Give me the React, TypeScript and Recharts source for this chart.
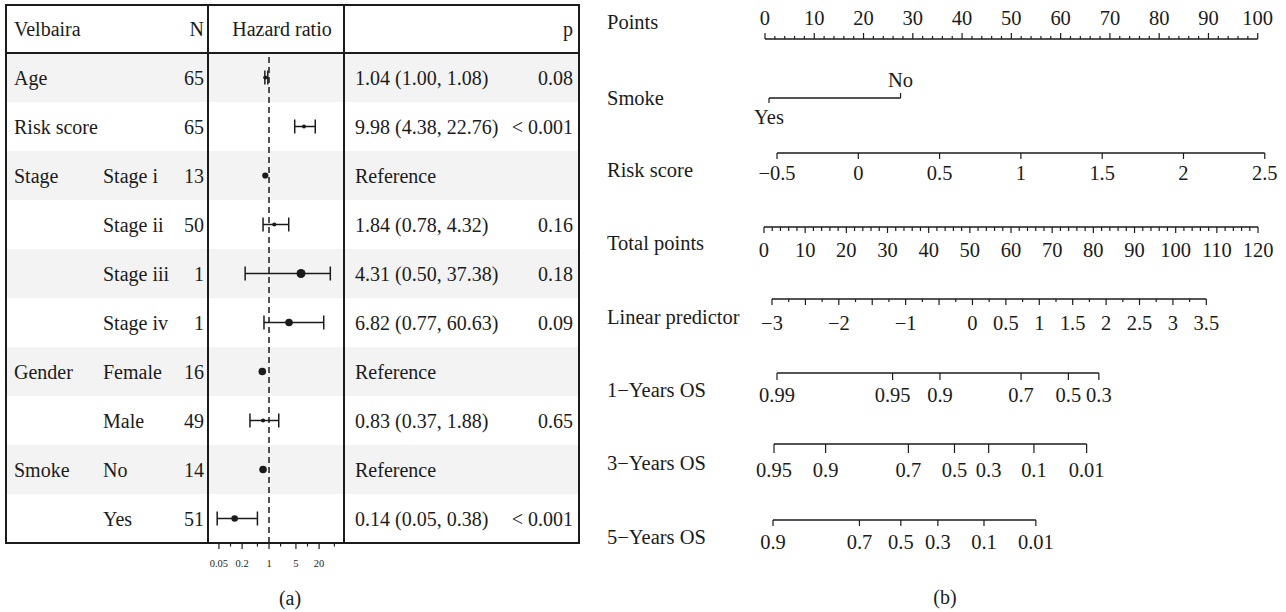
import {
  ErrorBar,
  Line,
  LineChart,
  ReferenceLine,
  Scatter,
  ScatterChart,
  XAxis,
  YAxis,
} from "recharts";

const FONT = '"Liberation Serif", "Times New Roman", serif';
const INK = "#1b1b1b";
const STRIPE = "#f3f3f3";

// ---------- (a) forest plot ----------
const variableNames = ["Age", "Risk score", "Stage", "", "", "", "Gender", "", "Smoke", ""];
const levelNames = ["", "", "Stage i", "Stage ii", "Stage iii", "Stage iv", "Female", "Male", "No", "Yes"];
const counts = [65, 65, 13, 50, 1, 1, 16, 49, 14, 51];
const hrLabels = [
  "1.04 (1.00, 1.08)",
  "9.98 (4.38, 22.76)",
  "Reference",
  "1.84 (0.78, 4.32)",
  "4.31 (0.50, 37.38)",
  "6.82 (0.77, 60.63)",
  "Reference",
  "0.83 (0.37, 1.88)",
  "Reference",
  "0.14 (0.05, 0.38)",
];
const pLabels = ["0.08", "< 0.001", "", "0.16", "0.18", "0.09", "", "0.65", "", "< 0.001"];

// marker positions as they are drawn in the plot
const hrEstimate = [0.8, 8.1, 0.8, 1.37, 6.78, 3.31, 0.67, 0.7, 0.7, 0.128];
const hrLower = [0.78, 4.65, null, 0.7, 0.24, 0.74, null, 0.32, null, 0.045];
const hrUpper = [0.93, 15.9, null, 3.25, 39.1, 26.4, null, 1.79, null, 0.5];
const markerWeight = [2.1, 2, 3.1, 2.1, 4.5, 3.8, 3.8, 2.1, 3.8, 3.3];

const hrTicks = [0.05, 0.1, 0.2, 0.5, 1, 2, 5, 10, 20, 50];
const hrTickLabels = ["0.05", "", "0.2", "", "1", "", "5", "", "20", ""];

// ---------- (b) nomogram ----------
const pointsLabels = [0, 10, 20, 30, 40, 50, 60, 70, 80, 90, 100];
const smokeLevels = ["Yes", "No"];
const smokePoints = [0.8, 27.5];
const riskScoreTicks = [-0.5, 0, 0.5, 1, 1.5, 2, 2.5];
const totalPointsLabels = [0, 10, 20, 30, 40, 50, 60, 70, 80, 90, 100, 110, 120];
const linearPredictorLabels = [-3, -2, -1, 0, 0.5, 1, 1.5, 2, 2.5, 3, 3.5];
const os1Year = [0.99, 0.95, 0.9, 0.7, 0.5, 0.3];
const os1YearTotal = [3.32, 31.4, 42.9, 62.6, 74.1, 81.5];
const os3Year = [0.95, 0.9, 0.7, 0.5, 0.3, 0.1, 0.01];
const os3YearTotal = [2.46, 15.0, 35.1, 46.3, 54.6, 65.6, 78.4];
const os5Year = [0.9, 0.7, 0.5, 0.3, 0.1, 0.01];
const os5YearTotal = [2.25, 23.25, 33.3, 42.3, 53.5, 66.1];

// where the linear scales sit along the total points scale
const pointsSpan: [number, number] = [0.32, 120.0]; // Points 0 .. 100
const riskSpan: [number, number] = [3.32, 121.8]; // -0.5 .. 2.5
const lpSpan: [number, number] = [2.1, 107.6]; // -3 .. 3.5

// layout
const TP_X0 = 763.7;
const TP_PX = 4.117;
const ROW_TOP = 53;
const ROW_H = 49;
const T_LEFT = 6;
const T_RIGHT = 579;
const COL_PLOT = 208;
const COL_TEXT = 344;
const T_TOP = 5;
const T_BOTTOM = ROW_TOP + ROW_H * variableNames.length;
const TABLE_FONT = 20;
const NOMO_FONT = 20.5;

const minus = (v: number) => (v < 0 ? `\u2212${Math.abs(v)}` : String(v));
const pointsToTotal = (p: number) => pointsSpan[0] + (p * (pointsSpan[1] - pointsSpan[0])) / 100;

const forestRows = hrEstimate.map((est, i) => ({
  row: i,
  est,
  r: markerWeight[i],
  err: hrLower[i] == null ? null : [est - (hrLower[i] as number), (hrUpper[i] as number) - est],
}));
const withCi = forestRows.filter((d) => d.err);
const noCi = forestRows.filter((d) => !d.err);

function Dot(props: any) {
  return <circle cx={props.cx} cy={props.cy} r={props.payload.r} fill={INK} />;
}

function ForestTick(props: any) {
  const { x, y, payload } = props;
  const lab = hrTickLabels[hrTicks.indexOf(payload.value)];
  return (
    <g>
      <line x1={x} x2={x} y1={y} y2={y + (lab ? 6 : 3.5)} stroke={INK} strokeWidth={1.2} />
      {lab && (
        <text x={x} y={y + 20} textAnchor="middle" dominantBaseline="central" fontFamily={FONT} fontSize={10.5} fill={INK}>
          {lab}
        </text>
      )}
    </g>
  );
}

function Rule({ x, y, w, h }: { x: number; y: number; w: number; h: number }) {
  return <div style={{ position: "absolute", left: x, top: y, width: w, height: h, background: INK }} />;
}

function Cell({
  x,
  y,
  text,
  align = "left",
  width = 220,
  size = TABLE_FONT,
}: {
  x: number;
  y: number;
  text: string;
  align?: "left" | "right" | "center";
  width?: number;
  size?: number;
}) {
  const left = align === "left" ? x : align === "right" ? x - width : x - width / 2;
  return (
    <div
      style={{
        position: "absolute",
        left,
        top: y - 13,
        width,
        height: 26,
        lineHeight: "26px",
        textAlign: align,
        fontFamily: FONT,
        fontSize: size,
        color: INK,
        whiteSpace: "nowrap",
      }}
    >
      {text}
    </div>
  );
}

function ForestPanel() {
  return (
    <>
      {variableNames.map((_, i) =>
        i % 2 === 0 ? (
          <div
            key={`bg${i}`}
            style={{ position: "absolute", left: T_LEFT, top: ROW_TOP + ROW_H * i, width: T_RIGHT - T_LEFT, height: ROW_H, background: STRIPE }}
          />
        ) : null
      )}
      <Cell x={14} y={29} text="Velbaira" />
      <Cell x={204} y={29} text="N" align="right" width={40} />
      <Cell x={282} y={29} text="Hazard ratio" align="center" width={130} />
      <Cell x={573} y={29} text="p" align="right" width={40} />
      {variableNames.map((name, i) => {
        const cy = ROW_TOP + ROW_H * (i + 0.5);
        return (
          <div key={`r${i}`}>
            {name && <Cell x={14} y={cy} text={name} />}
            {levelNames[i] && <Cell x={103} y={cy} text={levelNames[i]} />}
            <Cell x={204} y={cy} text={String(counts[i])} align="right" width={40} />
            <Cell x={355} y={cy} text={hrLabels[i]} />
            {pLabels[i] && <Cell x={573} y={cy} text={pLabels[i]} align="right" width={80} />}
          </div>
        );
      })}
      <Rule x={T_LEFT} y={T_TOP - 0.75} w={T_RIGHT - T_LEFT} h={1.5} />
      <Rule x={T_LEFT} y={ROW_TOP - 0.75} w={T_RIGHT - T_LEFT} h={1.5} />
      <Rule x={T_LEFT} y={T_BOTTOM - 0.75} w={T_RIGHT - T_LEFT + 0.75} h={1.5} />
      <Rule x={T_LEFT - 0.75} y={T_TOP - 0.75} w={1.5} h={T_BOTTOM - T_TOP + 1.5} />
      <Rule x={COL_PLOT - 0.75} y={T_TOP - 0.75} w={1.5} h={T_BOTTOM - T_TOP + 1.5} />
      <Rule x={COL_TEXT - 0.75} y={T_TOP - 0.75} w={1.5} h={T_BOTTOM - T_TOP + 1.5} />
      <Rule x={T_RIGHT - 0.75} y={T_TOP - 0.75} w={1.5} h={T_BOTTOM - T_TOP + 1.5} />
      <div style={{ position: "absolute", left: 0, top: 0 }}>
        <ScatterChart width={600} height={600} margin={{ top: ROW_TOP, left: COL_PLOT, right: 600 - COL_TEXT, bottom: 0 }}>
          <XAxis
            dataKey="est"
            type="number"
            scale="log"
            domain={[0.026, 88.7]}
            allowDataOverflow
            ticks={hrTicks}
            interval={0}
            height={600 - T_BOTTOM}
            tickSize={0}
            tickMargin={0}
            axisLine={false}
            tickLine={false}
            tick={(p: any) => <ForestTick {...p} />}
          />
          <YAxis dataKey="row" type="number" domain={[-0.5, variableNames.length - 0.5]} reversed hide />
          <ReferenceLine x={1} stroke={INK} strokeWidth={1.5} strokeDasharray="6 4" />
          <Scatter data={withCi} shape={(p: any) => <Dot {...p} />} isAnimationActive={false}>
            <ErrorBar direction="x" dataKey="err" width={7} stroke={INK} strokeWidth={1.5} />
          </Scatter>
          <Scatter data={noCi} shape={(p: any) => <Dot {...p} />} isAnimationActive={false} />
        </ScatterChart>
      </div>
    </>
  );
}

type AxisRowProps = {
  lineY: number;
  domain: [number, number];
  span: [number, number];
  ticks: number[];
  label: (v: number) => string;
  len: (v: number) => number;
  gap: (v: number) => number;
};

function NomoTick(props: any) {
  const { x, y, payload, label, len, gap } = props;
  const v = payload.value;
  const text = label(v);
  return (
    <g>
      <line x1={x} x2={x} y1={y} y2={y + len(v)} stroke={INK} strokeWidth={1.2} />
      {text && (
        <text x={x} y={y + gap(v)} textAnchor="middle" dominantBaseline="central" fontFamily={FONT} fontSize={NOMO_FONT} fill={INK}>
          {text}
        </text>
      )}
    </g>
  );
}

function NomoAxis({ lineY, domain, span, ticks, label, len, gap }: AxisRowProps) {
  const M = 40;
  const AXIS_AT = 40;
  const H = 86;
  const x0 = TP_X0 + span[0] * TP_PX;
  const x1 = TP_X0 + span[1] * TP_PX;
  const data = [
    { v: domain[0], y: 0.5 },
    { v: domain[1], y: 0.5 },
  ];
  return (
    <div style={{ position: "absolute", left: x0 - M, top: lineY - AXIS_AT }}>
      <LineChart width={x1 - x0 + 2 * M} height={H} data={data} margin={{ top: AXIS_AT - 4, right: M, bottom: 0, left: M }}>
        <XAxis
          dataKey="v"
          type="number"
          domain={domain}
          allowDataOverflow
          ticks={ticks}
          interval={0}
          height={H - AXIS_AT}
          tickSize={0}
          tickMargin={0}
          tickLine={false}
          axisLine={{ stroke: INK, strokeWidth: 1.3 }}
          tick={(p: any) => <NomoTick {...p} label={label} len={len} gap={gap} />}
        />
        <YAxis hide domain={[0, 1]} />
        <Line dataKey="y" stroke="none" dot={false} isAnimationActive={false} />
      </LineChart>
    </div>
  );
}

const RowName = ({ y, text }: { y: number; text: string }) => <Cell x={607} y={y} text={text} size={NOMO_FONT} />;

function NomogramPanel() {
  const pointsTicks = Array.from({ length: 51 }, (_, i) => i * 2);
  const totalTicks = Array.from({ length: 61 }, (_, i) => i * 2);
  const lpTicks = Array.from({ length: 27 }, (_, i) => -3 + i * 0.25);
  const osLabel = (probs: number[], at: number[]) => (v: number) => String(probs[at.indexOf(v)]);
  return (
    <>
      <RowName y={22} text="Points" />
      <NomoAxis
        lineY={39}
        domain={[0, 100]}
        span={pointsSpan}
        ticks={pointsTicks}
        label={(v) => (pointsLabels.includes(v) ? String(v) : "")}
        len={(v) => (v % 10 === 0 ? -6 : -3)}
        gap={() => -21}
      />
      <RowName y={98} text="Smoke" />
      <NomoAxis
        lineY={98}
        domain={[smokePoints[0], smokePoints[1]]}
        span={[pointsToTotal(smokePoints[0]), pointsToTotal(smokePoints[1])]}
        ticks={smokePoints}
        label={(v) => smokeLevels[smokePoints.indexOf(v)]}
        len={(v) => (smokeLevels[smokePoints.indexOf(v)] === "No" ? -5 : 5)}
        gap={(v) => (smokeLevels[smokePoints.indexOf(v)] === "No" ? -18 : 19)}
      />
      <RowName y={170} text="Risk score" />
      <NomoAxis
        lineY={153}
        domain={[-0.5, 2.5]}
        span={riskSpan}
        ticks={riskScoreTicks}
        label={minus}
        len={() => 6}
        gap={() => 20}
      />
      <RowName y={243} text="Total points" />
      <NomoAxis
        lineY={227}
        domain={[0, 120]}
        span={[0, 120]}
        ticks={totalTicks}
        label={(v) => (totalPointsLabels.includes(v) ? String(v) : "")}
        len={(v) => (v % 10 === 0 ? 6 : 4)}
        gap={() => 23}
      />
      <RowName y={317} text="Linear predictor" />
      <NomoAxis
        lineY={299}
        domain={[-3, 3.5]}
        span={lpSpan}
        ticks={lpTicks}
        label={(v) => (linearPredictorLabels.includes(v) ? minus(v) : "")}
        len={(v) => (Number.isInteger(v * 2) ? 6 : 3)}
        gap={() => 24}
      />
      <RowName y={390} text={"1\u2212Years OS"} />
      <NomoAxis
        lineY={373}
        domain={[os1YearTotal[0], os1YearTotal[os1YearTotal.length - 1]]}
        span={[os1YearTotal[0], os1YearTotal[os1YearTotal.length - 1]]}
        ticks={os1YearTotal}
        label={osLabel(os1Year, os1YearTotal)}
        len={() => 7}
        gap={() => 22}
      />
      <RowName y={463} text={"3\u2212Years OS"} />
      <NomoAxis
        lineY={444}
        domain={[os3YearTotal[0], os3YearTotal[os3YearTotal.length - 1]]}
        span={[os3YearTotal[0], os3YearTotal[os3YearTotal.length - 1]]}
        ticks={os3YearTotal}
        label={osLabel(os3Year, os3YearTotal)}
        len={() => 9}
        gap={() => 26}
      />
      <RowName y={537} text={"5\u2212Years OS"} />
      <NomoAxis
        lineY={520}
        domain={[os5YearTotal[0], os5YearTotal[os5YearTotal.length - 1]]}
        span={[os5YearTotal[0], os5YearTotal[os5YearTotal.length - 1]]}
        ticks={os5YearTotal}
        label={osLabel(os5Year, os5YearTotal)}
        len={() => 6}
        gap={() => 22}
      />
    </>
  );
}

export default function App() {
  return (
    <div style={{ position: "relative", width: 1286, height: 612, background: "#fff", overflow: "hidden" }}>
      <style>{"body{margin:0}"}</style>
      <ForestPanel />
      <NomogramPanel />
      <Cell x={290} y={598} text="(a)" align="center" width={60} />
      <Cell x={945} y={597} text="(b)" align="center" width={60} />
    </div>
  );
}
